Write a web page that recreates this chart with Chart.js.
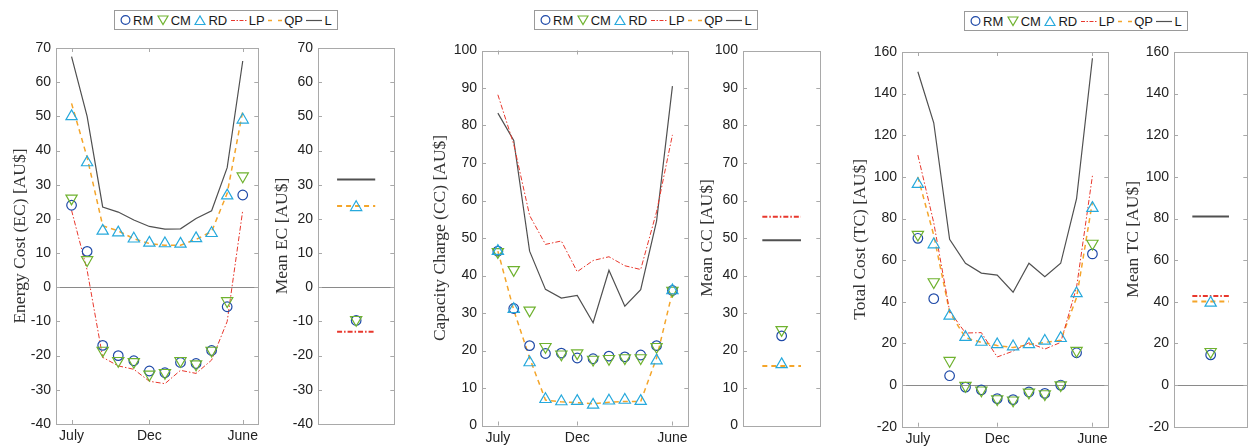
<!DOCTYPE html>
<html lang="en">
<head>
<meta charset="UTF-8"/>
<title>Monthly EC / CC / TC</title>
<script src="https://cdn.jsdelivr.net/npm/chart.js"></script>
<style>
  body { margin: 0; background: #fff; width: 1255px; height: 447px; position: relative; overflow: hidden;
         font-family: "Liberation Sans", Arial, sans-serif; }
  canvas { position: absolute; top: 0; }
  .legend { position: absolute; height: 20px; width: 224px; border: 1px solid #9a9a9a; background: #fff;
            display: flex; align-items: center; padding-left: 5px; font-size: 13px; color: #1a1a1a;
            box-sizing: border-box; white-space: nowrap; }
  .legend svg { margin: 0 2px 0 0; flex-shrink: 0; }
  .legend span { margin-right: 3.5px; flex-shrink: 0; }
</style>
</head>
<body>

<script>
  // months on the x axis, only three of them labelled
  const months = ['July','Aug','Sep','Oct','Nov','Dec','Jan','Feb','Mar','Apr','May','June'];
  const tickLabels = ['July','Dec','June'];

  // Energy cost (EC)
  const ecRM = [24, 10.5, -17, -20, -21.5, -24.5, -25, -22, -22.3, -18.5, -5.7, 27];
  const ecCM = [26, 8, -18.5, -21.5, -21.8, -25.5, -25, -21.5, -22.5, -18.5, -4, 32.5];
  const ecRD = [50, 36.5, 16.5, 16, 14.2, 13, 12.8, 12.7, 14.3, 15.8, 26.8, 49];
  const ecLP = [22.5, 5, -20.5, -23, -24, -27.5, -28.2, -24.3, -25.2, -21.3, -10, 22.5];
  const ecQP = [53.8, 38, 18, 16.5, 14.2, 12.8, 12.3, 12.3, 14, 16.3, 27.5, 51.5];
  const ecL  = [67.5, 50, 23.5, 22, 19.7, 17.8, 17, 17.1, 20.1, 22.4, 35, 66.2];
  const ecMean = { RM: -9.7, CM: -9.5, RD: 23.4, LP: -13, QP: 23.8, L: 31.5 };

  // Capacity charge (CC)
  const ccRM = [46.5, 31.2, 21.3, 19.2, 19.3, 18, 17.8, 18.5, 18.3, 18.8, 21.3, 36];
  const ccCM = [46.3, 41.5, 30.7, 21, 19, 19.3, 17.6, 17.8, 18, 18, 21, 36];
  const ccRD = [46.5, 31, 16.8, 7, 6.4, 6.5, 5.5, 6.6, 6.8, 6.5, 17.3, 36];
  const ccLP = [88.2, 75, 56, 48.3, 49.2, 41, 44, 45, 42.6, 41.6, 57, 77.5];
  const ccQP = [46.5, 30.8, 18, 6.8, 6.3, 6.1, 5.8, 6.2, 6.4, 6.4, 18, 35.6];
  const ccL  = [83.3, 76, 46.5, 36.3, 34, 34.7, 27.4, 41.4, 31.8, 36.2, 54.5, 90.5];
  const ccMean = { RM: 23.9, CM: 25.5, RD: 16.3, LP: 55.7, QP: 15.9, L: 49.4 };

  // Total cost (TC)
  const tcRM = [70.5, 41.5, 4.5, -1, -2.3, -6.5, -7, -3.3, -4, 0, 15.5, 63];
  const tcCM = [72.3, 49.5, 11.7, -0.3, -2.5, -6.7, -7.3, -3.5, -4.3, 0, 16.5, 68];
  const tcRD = [96.5, 67.5, 33.2, 23, 20.7, 19.5, 18.5, 19.5, 21.2, 22.5, 44, 85];
  const tcLP = [110.5, 78, 35.5, 25, 25.2, 13.5, 16.3, 20.3, 17.3, 20.5, 47, 100.5];
  const tcQP = [100, 72, 35, 22.8, 20.5, 19, 18, 19.5, 20.5, 21.5, 42, 88];
  const tcL  = [150.5, 126, 70, 58.5, 53.8, 52.8, 44.6, 58.5, 52, 58.5, 89.5, 157];
  const tcMean = { RM: 14.5, CM: 16, RD: 39.5, LP: 42.8, QP: 40.2, L: 81 };

  const col = { RM: '#1f4aa8', CM: '#6fb22f', RD: '#27a9dc', LP: '#e8372c', QP: '#f4a52a', L: '#505050' };

  Chart.defaults.font.family = '"Liberation Sans", Arial, sans-serif';
  Chart.defaults.font.size = 14;
  Chart.defaults.color = '#222';

  // matlab-ish box with inward ticks + zero line
  const boxPlugin = {
    id: 'box',
    beforeDatasetsDraw(chart, args, opts) {
      const { ctx, chartArea: a, scales } = chart;
      ctx.save();
      ctx.strokeStyle = '#a9a9a9';
      ctx.lineWidth = 1;
      if (opts.zero) {
        const z = Math.round(scales.y.getPixelForValue(0)) + 0.5;
        ctx.strokeStyle = '#8a8a8a';
        ctx.beginPath(); ctx.moveTo(a.left, z); ctx.lineTo(a.right, z); ctx.stroke();
        ctx.strokeStyle = '#a9a9a9';
      }
      ctx.strokeRect(Math.round(a.left) + 0.5, Math.round(a.top) + 0.5, Math.round(a.width), Math.round(a.height));
      ctx.beginPath();
      scales.y.ticks.forEach((t, i) => {
        const py = Math.round(scales.y.getPixelForTick(i)) + 0.5;
        ctx.moveTo(a.left, py); ctx.lineTo(a.left + 4, py);
        ctx.moveTo(a.right - 4, py); ctx.lineTo(a.right, py);
      });
      if (opts.xTicks) {
        scales.x.ticks.forEach((t, i) => {
          const px = Math.round(scales.x.getPixelForTick(i)) + 0.5;
          ctx.moveTo(px, a.bottom); ctx.lineTo(px, a.bottom - 4);
          ctx.moveTo(px, a.top); ctx.lineTo(px, a.top + 4);
        });
      }
      ctx.stroke();
      ctx.restore();
    }
  };

  function markerSet(key, pts, style, r) {
    return {
      label: key, data: pts, showLine: false,
      pointStyle: style === 'down' ? 'triangle' : style,
      rotation: style === 'down' ? 180 : 0,
      pointRadius: r, pointBorderWidth: 1.2,
      pointBorderColor: col[key], pointBackgroundColor: 'rgba(0,0,0,0)',
      borderColor: col[key], backgroundColor: 'rgba(0,0,0,0)'
    };
  }
  function lineSet(key, pts, w) {
    const dash = key === 'LP' ? [5, 2, 1.5, 2] : key === 'QP' ? [5, 4] : [];
    return {
      label: key, data: pts, pointRadius: 0, borderColor: col[key],
      borderWidth: w, borderDash: dash, tension: 0, fill: false
    };
  }

  function addCanvas(left, w) {
    const c = document.createElement('canvas');
    c.width = w; c.height = 447;
    c.style.left = left + 'px';
    c.style.width = w + 'px'; c.style.height = '447px';
    document.body.appendChild(c);
    return c.getContext('2d');
  }

  function yScale(p, title, titlePad, yW) {
    return {
      min: p.min, max: p.max,
      ticks: { stepSize: p.step, padding: 5, color: '#222' },
      grid: { display: false, drawTicks: false }, border: { display: false },
      title: { display: true, text: title, color: '#333',
               font: { family: '"Liberation Serif", "Times New Roman", serif', size: 17.5 },
               padding: { top: titlePad, bottom: 0 } },
      afterFit: s => { s.width = yW; }
    };
  }

  function mainChart(p, s) {
    const tickIdx = tickLabels.map(m => months.indexOf(m));
    const pts = arr => arr.map((v, i) => ({ x: i, y: v }));
    new Chart(addCanvas(p.left, p.width), {
      type: 'line',
      data: { datasets: [
        markerSet('RD', pts(s.RD), 'triangle', 6.5),
        markerSet('CM', pts(s.CM), 'down', 6.5),
        markerSet('RM', pts(s.RM), 'circle', 4.8),
        lineSet('LP', pts(s.LP), 1),
        lineSet('QP', pts(s.QP), 1.5),
        lineSet('L', pts(s.L), 1.2)
      ]},
      options: {
        responsive: false, animation: false, devicePixelRatio: 1,
        layout: { padding: { top: p.top, right: p.right, left: 0, bottom: 0 } },
        plugins: { legend: { display: false }, tooltip: { enabled: false },
                   box: { zero: p.min < 0, xTicks: true } },
        scales: {
          x: { type: 'linear', min: -1, max: 12,
               grid: { display: false, drawTicks: false }, border: { display: false },
               afterBuildTicks: sc => { sc.ticks = tickIdx.map(v => ({ value: v })); },
               ticks: { autoSkip: false, maxRotation: 0, padding: 4, color: '#222',
                        callback: v => months[v] },
               afterFit: sc => { sc.height = p.xH; } },
          y: yScale(p, p.title, p.titlePad, p.yW)
        }
      },
      plugins: [boxPlugin]
    });
  }

  function meanChart(p, m) {
    const seg = v => [{ x: 0.5, y: v }, { x: 1.5, y: v }];
    new Chart(addCanvas(p.left, p.width), {
      type: 'line',
      data: { datasets: [
        markerSet('RD', [{ x: 1, y: m.RD }], 'triangle', 6.5),
        markerSet('CM', [{ x: 1, y: m.CM }], 'down', 6.5),
        markerSet('RM', [{ x: 1, y: m.RM }], 'circle', 4.8),
        lineSet('LP', seg(m.LP), 2),
        lineSet('QP', seg(m.QP), 2),
        lineSet('L', seg(m.L), 2)
      ]},
      options: {
        responsive: false, animation: false, devicePixelRatio: 1,
        layout: { padding: { top: p.top, right: p.right, left: 0, bottom: p.bottom } },
        plugins: { legend: { display: false }, tooltip: { enabled: false },
                   box: { zero: p.min < 0, xTicks: false } },
        scales: {
          x: { type: 'linear', min: 0, max: 2, display: false },
          y: yScale(p, p.title, p.titlePad, p.yW)
        }
      },
      plugins: [boxPlugin]
    });
  }

  function legend(left, top) {
    const d = document.createElement('div');
    d.className = 'legend';
    d.style.left = left + 'px'; d.style.top = top + 'px';
    const ic = {
      RM: `<svg width="11" height="12"><circle cx="5.5" cy="6" r="4.4" fill="none" stroke="${col.RM}" stroke-width="1.2"/></svg>`,
      CM: `<svg width="12" height="12"><path d="M1 2 L11 2 L6 10.5 Z" fill="none" stroke="${col.CM}" stroke-width="1.2"/></svg>`,
      RD: `<svg width="12" height="12"><path d="M1 10.5 L11 10.5 L6 2 Z" fill="none" stroke="${col.RD}" stroke-width="1.2"/></svg>`,
      LP: `<svg width="16" height="12"><line x1="0" y1="6.5" x2="16" y2="6.5" stroke="${col.LP}" stroke-width="1" stroke-dasharray="4 1.5 1.5 1.5"/></svg>`,
      QP: `<svg width="14" height="12"><line x1="0" y1="6.5" x2="14" y2="6.5" stroke="${col.QP}" stroke-width="1.5" stroke-dasharray="4 6"/></svg>`,
      L:  `<svg width="16" height="12"><line x1="0" y1="6.5" x2="16" y2="6.5" stroke="${col.L}" stroke-width="1.2"/></svg>`
    };
    d.innerHTML = ['RM','CM','RD','LP','QP','L'].map(k => ic[k] + `<span>${k}</span>`).join('');
    document.body.appendChild(d);
  }

  // EC
  mainChart({ left: 0, width: 266, top: 48, right: 2, xH: 23, yW: 56, titlePad: 10,
              min: -40, max: 70, step: 10, title: 'Energy Cost (EC) [AU$]' },
            { RM: ecRM, CM: ecCM, RD: ecRD, LP: ecLP, QP: ecQP, L: ecL });
  meanChart({ left: 266, width: 136, top: 48, right: 5, bottom: 23, yW: 52, titlePad: 6.4,
              min: -40, max: 70, step: 10, title: 'Mean EC [AU$]' }, ecMean);
  legend(114, 10);

  // CC
  mainChart({ left: 420, width: 276, top: 50.5, right: 6, xH: 21.5, yW: 62, titlePad: 10.4,
              min: 0, max: 100, step: 10, title: 'Capacity Charge (CC) [AU$]' },
            { RM: ccRM, CM: ccCM, RD: ccRD, LP: ccLP, QP: ccQP, L: ccL });
  meanChart({ left: 696, width: 132, top: 50.5, right: 6, bottom: 21.5, yW: 47, titlePad: 1.4,
              min: 0, max: 100, step: 10, title: 'Mean CC [AU$]' }, ccMean);
  legend(534, 10);

  // TC
  mainChart({ left: 840, width: 276, top: 52, right: 4, xH: 20.3, yW: 62, titlePad: 10.4,
              min: -20, max: 160, step: 20, title: 'Total Cost (TC) [AU$]' },
            { RM: tcRM, CM: tcCM, RD: tcRD, LP: tcLP, QP: tcQP, L: tcL });
  meanChart({ left: 1116, width: 139, top: 52, right: 2, bottom: 20.3, yW: 58, titlePad: 7.4,
              min: -20, max: 160, step: 20, title: 'Mean TC [AU$]' }, tcMean);
  legend(964, 11);
</script>
</body>
</html>
